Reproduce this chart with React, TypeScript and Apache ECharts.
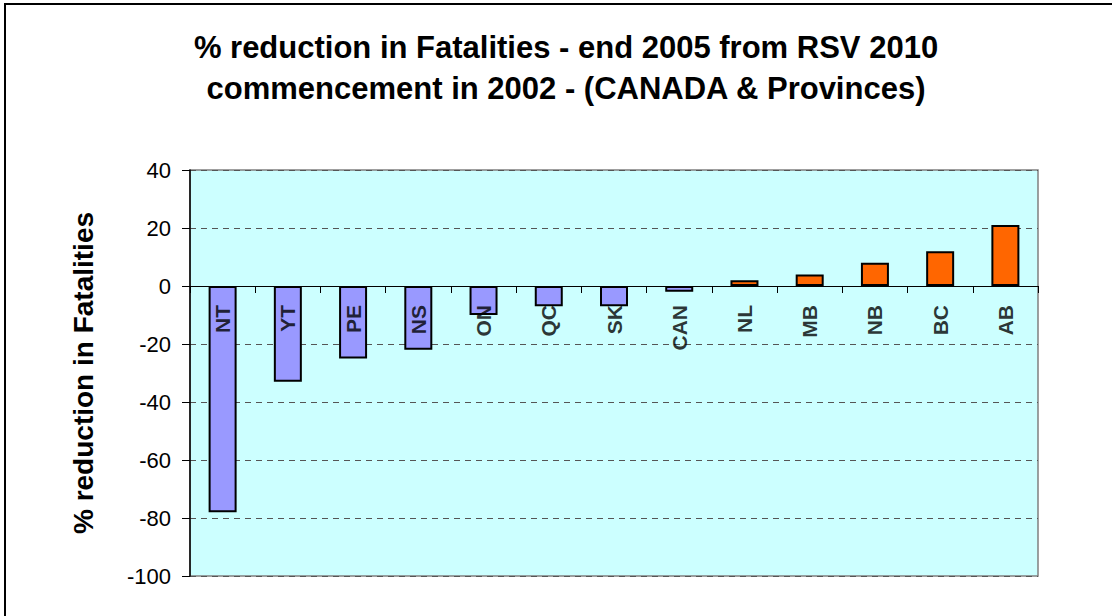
import React, { useEffect, useRef } from "react";
import * as echarts from "echarts";

const categories = ["NT", "YT", "PE", "NS", "ON", "QC", "SK", "CAN", "NL", "MB", "NB", "BC", "AB"];
const reductionValues = [-78, -33, -25, -22, -10, -7, -7, -2, 2, 4, 8, 12, 21];
const yTicks = { min: -100, max: 40, interval: 20 };
const titleText = "% reduction in Fatalities - end 2005 from RSV 2010\ncommencement in 2002 - (CANADA & Provinces)";
const yAxisName = "% reduction in Fatalities";

const FONT = "'Liberation Sans', Arial, sans-serif";

export default function App() {
  const ref = useRef<HTMLDivElement>(null);
  useEffect(() => {
    if (!ref.current) return;
    const chart = echarts.init(ref.current, null, { renderer: "svg" });
    chart.setOption({
      animation: false,
      backgroundColor: "#ffffff",
      textStyle: { fontFamily: FONT },
      title: {
        text: titleText,
        left: 561,
        top: 22,
        textAlign: "center",
        textStyle: {
          fontFamily: FONT,
          fontSize: 31,
          fontWeight: "bold",
          color: "#000",
          lineHeight: 41,
        },
      },
      graphic: [
        {
          type: "rect",
          shape: { x: 5, y: 4, width: 1300, height: 800 },
          style: { fill: "none", stroke: "#000", lineWidth: 2 },
          silent: true,
          z: -1,
        },
      ],
      grid: {
        left: 190,
        right: 74,
        top: 170,
        bottom: 40,
        show: true,
        backgroundColor: "#CCFFFF",
        borderColor: "#808080",
        borderWidth: 1.5,
        containLabel: false,
        outerBoundsMode: "none",
      },
      xAxis: {
        type: "category",
        data: categories,
        axisLine: { show: true, onZero: true, lineStyle: { color: "#000", width: 1 } },
        axisTick: { show: true, inside: false, length: 7, lineStyle: { color: "#000", width: 1 } },
        axisLabel: { show: false },
        splitLine: { show: false },
      },
      yAxis: {
        type: "value",
        min: yTicks.min,
        max: yTicks.max,
        interval: yTicks.interval,
        name: yAxisName,
        nameLocation: "middle",
        nameRotate: 90,
        nameGap: 93,
        nameTextStyle: { fontFamily: FONT, fontSize: 28, fontWeight: "bold", color: "#000" },
        axisLine: { show: true, lineStyle: { color: "#000", width: 1.5 } },
        axisTick: { show: true, inside: false, length: 8, lineStyle: { color: "#000", width: 1 } },
        axisLabel: { margin: 19, fontFamily: FONT, fontSize: 22, color: "#000" },
        splitLine: {
          show: true,
          lineStyle: { color: "#555", width: 1, type: [6, 5] },
        },
      },
      series: [
        {
          type: "bar",
          data: reductionValues,
          barWidth: 28,
          itemStyle: {
            color: (p: any) => (p.value < 0 ? "#9999FF" : "#FF6600"),
            borderColor: "#000",
            borderWidth: 2,
          },
        },
        {
          // category labels anchored at the zero line (axis crosses at 0)
          type: "scatter",
          data: categories.map((c) => ({ name: c, value: [c, 0] })),
          symbolSize: 0,
          silent: true,
          z: 5,
          label: {
            show: true,
            formatter: "{b}",
            position: "bottom",
            distance: 19,
            rotate: 90,
            align: "right",
            verticalAlign: "middle",
            fontFamily: FONT,
            fontSize: 21,
            fontWeight: "bold",
            color: "#000",
          },
        },
      ],
    });
    return () => chart.dispose();
  }, []);
  return (
    <div
      ref={ref}
      style={{ position: "fixed", left: 0, top: 0, width: 1112, height: 616, background: "#fff" }}
    />
  );
}
